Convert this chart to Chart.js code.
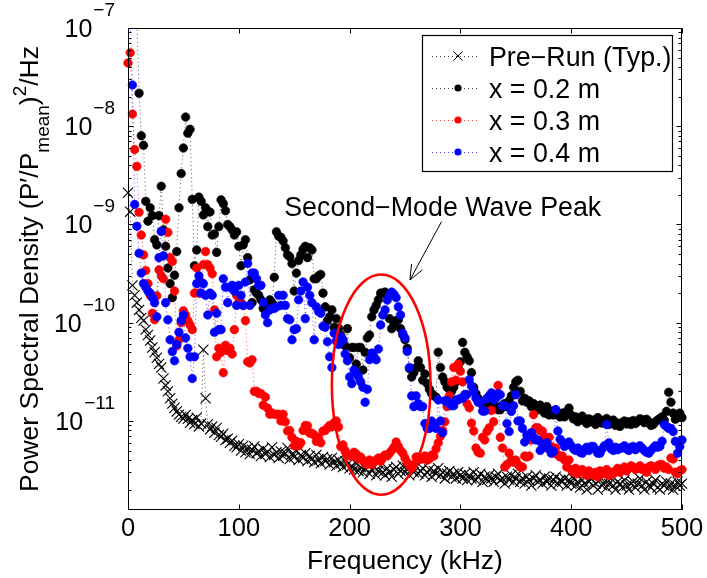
<!DOCTYPE html>
<html>
<head>
<meta charset="utf-8">
<script src="https://cdn.jsdelivr.net/npm/chart.js@4.4.0/dist/chart.umd.min.js"></script>
<style>
  html, body { margin: 0; padding: 0; background: #fff; }
  #wrap { width: 707px; height: 578px; }
</style>
</head>
<body>
<div id="wrap"><canvas id="psdChart" width="707" height="578"></canvas></div>
<script>
// ---- data ---------------------------------------------------------------
// frequency grid, kHz
const freqKHz = [
  0, 2, 4, 6, 8, 10, 12, 14, 16, 18,
  20, 22, 24, 26, 28, 30, 32, 34, 36, 38,
  40, 42, 44, 46, 48, 50, 52, 54, 56, 58,
  60, 62, 64, 66, 68, 70, 72, 74, 76, 78,
  80, 82, 84, 86, 88, 90, 92, 94, 96, 98,
  100, 102, 104, 106, 108, 110, 112, 114, 116, 118,
  120, 122, 124, 126, 128, 130, 132, 134, 136, 138,
  140, 142, 144, 146, 148, 150, 152, 154, 156, 158,
  160, 162, 164, 166, 168, 170, 172, 174, 176, 178,
  180, 182, 184, 186, 188, 190, 192, 194, 196, 198,
  200, 202, 204, 206, 208, 210, 212, 214, 216, 218,
  220, 222, 224, 226, 228, 230, 232, 234, 236, 238,
  240, 242, 244, 246, 248, 250, 252, 254, 256, 258,
  260, 262, 264, 266, 268, 270, 272, 274, 276, 278,
  280, 282, 284, 286, 288, 290, 292, 294, 296, 298,
  300, 302, 304, 306, 308, 310, 312, 314, 316, 318,
  320, 322, 324, 326, 328, 330, 332, 334, 336, 338,
  340, 342, 344, 346, 348, 350, 352, 354, 356, 358,
  360, 362, 364, 366, 368, 370, 372, 374, 376, 378,
  380, 382, 384, 386, 388, 390, 392, 394, 396, 398,
  400, 402, 404, 406, 408, 410, 412, 414, 416, 418,
  420, 422, 424, 426, 428, 430, 432, 434, 436, 438,
  440, 442, 444, 446, 448, 450, 452, 454, 456, 458,
  460, 462, 464, 466, 468, 470, 472, 474, 476, 478,
  480, 482, 484, 486, 488, 490, 492, 494, 496, 498,
  500
];

// PSD values below are in units of 1e-12 (P'/Pmean)^2/Hz
const PSD_UNIT = 1e-12;

const preRun = [
  2100, 1350, 240, 190, 160, 135, 112, 105, 85, 75,
  66, 56, 50, 44, 38, 35, 27, 23, 20, 17,
  15, 13.6, 12.5, 11.6, 11, 10.6, 11.5, 10.5, 9.6, 10.2,
  9.3, 10.8, 8.8, 9.4, 53, 17, 9.2, 8.2, 8.8, 7.6,
  8.5, 7.2, 6.9, 7.4, 6.4, 6.6, 6.0, 6.3, 5.6, 5.4,
  5.8, 5.0, 5.6, 4.8, 5.3, 4.6, 5.1, 5.5, 4.7, 4.9,
  4.4, 5.2, 4.6, 4.9, 4.3, 5.4, 4.5, 4.8, 4.2, 4.9,
  4.4, 4.7, 5.3, 4.1, 4.6, 4.3, 4.9, 4.0, 4.5, 4.2,
  4.7, 3.9, 4.4, 4.1, 3.8, 4.5, 4.0, 3.7, 4.3, 3.9,
  4.1, 3.6, 4.2, 3.8, 3.5, 4.0, 3.7, 3.4, 3.9, 3.6,
  3.3, 3.5, 3.2, 3.7, 3.1, 3.4, 3.0, 3.3, 3.6, 2.9,
  3.2, 3.4, 2.8, 3.1, 3.5, 3.0, 2.8, 3.3, 3.0, 2.7,
  3.2, 3.4, 2.9, 3.1, 3.5, 3.0, 3.3, 2.8, 3.2, 3.0,
  3.4, 2.9, 3.1, 3.3, 2.8, 3.0, 3.2, 2.7, 3.1, 2.9,
  3.3, 2.8, 3.0, 2.6, 2.9, 3.1, 2.7, 2.9, 2.6, 3.0,
  2.8, 2.6, 2.9, 2.5, 2.8, 2.6, 3.0, 2.5, 2.7, 2.9,
  2.4, 2.7, 2.5, 2.8, 2.6, 2.4, 2.7, 2.9, 2.5, 2.6,
  2.3, 2.7, 2.5, 2.8, 2.4, 2.6, 2.9, 2.4, 2.6, 2.3,
  2.7, 2.5, 2.2, 2.6, 2.8, 2.4, 2.5, 2.3, 2.7, 2.4,
  2.6, 2.2, 2.5, 2.7, 2.3, 2.5, 2.4, 2.6, 2.2, 2.5,
  2.3, 2.6, 2.2, 2.4, 2.1, 2.5, 2.3, 2.0, 2.4, 2.6,
  2.2, 2.3, 2.0, 2.5, 2.2, 2.4, 2.1, 2.3, 2.6, 2.2,
  2.0, 2.4, 2.3, 2.1, 2.5, 2.2, 2.0, 2.3, 2.4, 2.1,
  2.3, 2.6, 2.2, 2.0, 2.4, 2.2, 2.1, 2.3, 2.5, 2.1,
  2.0, 2.3, 2.2, 2.4, 2.1, 2.3, 2.0, 2.2, 2.4, 2.2,
  2.3
];

const x02 = [
  150000, 200000, 180000, 120000, 130000, 21700, 8000, 6400, 1720, 1080,
  1480, 1230, 700, 620, 1230, 2450, 880, 600, 360, 250,
  180, 305, 530, 1480, 3300, 6000, 12400, 8500, 9300, 1800,
  380, 550, 1900, 1720, 1250, 1480, 950, 1340, 780, 800,
  520, 950, 1780, 1630, 1380, 1000, 950, 880, 780, 840,
  600, 380, 620, 700, 460, 273, 160, 216, 200, 190,
  171, 140, 135, 140, 171, 160, 290, 840, 760, 740,
  680, 580, 490, 470, 400, 210, 320, 430, 490, 560,
  600, 460, 580, 550, 280, 280, 300, 310, 200, 145,
  105, 115, 135, 90, 110, 88, 75, 67, 58, 87,
  44, 56, 56, 38, 56, 56, 33, 50, 70, 75,
  115, 135, 150, 171, 200, 200, 205, 190, 110, 87,
  95, 105, 107, 87, 75, 67, 55, 34, 28, 31,
  35, 41, 35, 26, 30, 24, 21, 19, 18, 17.5,
  50, 35, 28, 25, 22, 21, 20, 22, 25, 35,
  40, 63, 50, 45, 41, 31, 22, 19, 17, 16,
  14.5, 14, 13, 14, 13.5, 15, 14, 13, 13, 14.5,
  15, 14, 16, 18, 22, 25, 26, 20, 16, 17,
  15.5, 16, 14, 15, 14, 13, 14.5, 13, 12, 14,
  11.5, 12.5, 11.5, 13, 11.5, 11, 12, 11, 12.5, 13.5,
  11.5, 10.5, 11, 9.8, 10.3, 11.2, 10, 9.4, 10.5, 9.8,
  10.2, 9.2, 10.8, 10.3, 9.5, 9.8, 10.6, 9.2, 9.6, 10.2,
  9, 9.5, 8.8, 9.6, 10, 9.3, 9.8, 9.2, 10.1, 9.4,
  9.9, 10.5, 10.3, 9.6, 10.4, 9.8, 9.0, 9.2, 9.8, 10.2,
  10.6, 11, 10.2, 12.5, 19.6, 15.5, 12, 10.4, 11.5, 12,
  10.8
];

const x03 = [
  44000, 56000, 13300, 5800, 3900, 1330, 780, 490, 340, 250,
  190, 125, 107, 188, 345, 300, 280, 1130, 830, 460,
  420, 210, 58, 67, 100, 132, 120, 105, 95, 85,
  200, 360, 200, 260, 390, 530, 390, 360, 315, 135,
  45, 55, 50, 31, 59, 52, 55, 48, 85, 190,
  160, 160, 150, 105, 40, 39, 42, 20, 20, 19,
  19, 14.5, 17.5, 13.5, 11.7, 12, 11.7, 11.7, 11.7, 10,
  11.7, 9.8, 7.9, 8, 6.8, 5.6, 6.2, 5.6, 6, 8,
  9, 8.9, 7.5, 7.5, 7.2, 6.2, 6.8, 6, 7.9, 8,
  8.5, 9, 8.7, 9.6, 10, 8.7, 5.5, 5.7, 5, 4.6,
  4.4, 4.4, 4.8, 4.6, 4.1, 4.3, 4, 3.7, 3.6, 4.0,
  3.6, 3.8, 4, 4.2, 3.9, 4.3, 4.5, 4.4, 4.7, 5.0,
  5.4, 6.1, 5.5, 5.0, 4.7, 4.2, 3.8, 3.5, 3.3, 3.6,
  4.3, 4.3, 4.1, 4.1, 4.4, 4.0, 4.1, 4.5, 4.4, 5.2,
  6, 7, 8, 9.8, 14, 18, 25, 35, 26, 38,
  32, 25, 18, 15, 13.6, 9.5, 7.9, 5.3, 4.8, 4.7,
  6.8, 6.4, 7.8, 8.5, 12.8, 9.8, 18.6, 23, 6.8, 5.3,
  3.4, 3.6, 4.7, 4.0, 3.8, 4.0, 3.6, 3.4, 3.4, 4.4,
  4.3, 4.4, 6.4, 11.6, 8.5, 8.5, 7.9, 7.9, 6.8, 5.3,
  6.8, 5.5, 4.7, 5.3, 4.5, 4.3, 4.4, 4.0, 3.4, 4.0,
  3.2, 3.0, 3.3, 2.9, 3.1, 3.2, 3.0, 2.8, 3.1, 2.9,
  2.8, 3.0, 2.7, 3.1, 3.0, 2.9, 3.2, 2.8, 3.0, 2.9,
  3.1, 3.3, 3.0, 3.2, 3.4, 3.1, 3.3, 3.5, 3.4, 3.2,
  3.3, 3.5, 3.2, 3.3, 3.0, 3.4, 3.5, 3.4, 3.2, 3.5,
  3.6, 3.6, 3.3, 3.4, 3.2, 4.2, 4.1, 3.0, 2.9, 3.1,
  3.2
];

const x04 = [
  150000, 110000, 26300, 1600, 960, 510, 320, 250, 230, 210,
  200, 180, 160, 115, 460, 850, 480, 160, 107, 67,
  51, 41, 60, 80, 105, 120, 70, 55, 45, 27,
  45, 250, 300, 200, 250, 190, 120, 200, 190, 80,
  125, 85, 85, 280, 230, 160, 230, 240, 210, 150,
  240, 190, 150, 260, 400, 150, 320, 320, 280, 240,
  240, 160, 120, 100, 135, 140, 140, 145, 190, 150,
  190, 150, 110, 107, 67, 85, 87, 171, 210, 260,
  110, 230, 190, 160, 67, 145, 130, 125, 92, 90,
  64, 45, 35, 78, 65, 60, 72, 67, 48, 41,
  28, 24, 33, 31, 28, 25, 22, 15.5, 21, 42,
  49, 45, 42, 54, 95, 120, 135, 170, 190, 205,
  195, 180, 145, 120, 78, 70, 51, 35, 18, 14,
  18, 15, 14, 14, 9.4, 8.4, 8.4, 10, 9, 8.4,
  16.4, 10, 7.6, 16, 16, 15, 14.3, 14.3, 16.4, 16.4,
  17, 17, 18.6, 18.6, 26.3, 22.7, 20, 17, 15.5, 15.5,
  12.6, 12.6, 17, 18, 19.3, 16.4, 17, 19, 18.5, 14.3,
  14.3, 9.4, 7.8, 12.5, 14.3, 18.5, 10, 10, 8.4, 6.1,
  7.2, 7, 7.6, 6.8, 6.4, 6.4, 5, 5.8, 5.5, 6,
  5.2, 4.7, 4.9, 13, 7.9, 6.5, 6.1, 5.5, 5.8, 6.1,
  5.6, 5.2, 5, 5.3, 4.8, 4.7, 5.1, 5.4, 5.0, 5.5,
  5.5, 5.1, 4.7, 4.7, 5.2, 5.6, 9.2, 6.0, 5.2, 5,
  5.4, 5.1, 5.3, 5.3, 5.6, 5.2, 5.0, 5.4, 5.5, 5.1,
  5.3, 5.6, 5.3, 5.0, 4.8, 4.7, 5.0, 5.3, 5.6, 5.4,
  5.5, 6.2, 9.2, 8.8, 8.4, 8.4, 7.8, 6.2, 4.7, 5.5,
  6.4
];

const seriesLabels = ['Pre\u2212Run (Typ.)', 'x = 0.2 m', 'x = 0.3 m', 'x = 0.4 m'];
const xTicks = [0, 100, 200, 300, 400, 500];
const yDecadeExps = [-11, -10, -9, -8, -7];
const yMin = 1.24e-12;
const yMax = 1e-7;

// annotation: ellipse around the second-mode peak, arrow and label (data coords)
const peakLabel = 'Second\u2212Mode Wave Peak';
const peakEllipse = { fLo: 184, fHi: 273, psdLo: 1.77e-12, psdHi: 3.1e-10 };
const peakArrow = { f0: 283, psd0: 1.07e-9, f1: 254.5, psd1: 2.73e-10 };
const peakText = { f: 141, psd: 1.22e-9 };

// ---- chart --------------------------------------------------------------
const FONT = '"Liberation Sans", Arial, Helvetica, sans-serif';
const TICK = 5.5;
const TICK_MINOR = 3.5;

function makeSeries(label, values, color, lineColor, style, order) {
  const isCross = style === 'crossRot';
  return {
    label: label,
    order: order,
    data: freqKHz.map((f, i) => ({ x: f, y: values[i] * PSD_UNIT })),
    showLine: true,
    borderColor: lineColor,
    borderWidth: 0.9,
    borderDash: [1, 3],
    pointStyle: style,
    pointRadius: isCross ? 7.2 : 4.3,
    pointBorderWidth: isCross ? 1.1 : 0.6,
    pointBackgroundColor: color,
    pointBorderColor: color,
    pointHoverRadius: 0,
    tension: 0,
    clip: { left: 8, right: 8, top: 0, bottom: 8 }
  };
}

function txt(ctx, s, x, y, size, align) {
  ctx.font = size + 'px ' + FONT;
  ctx.textAlign = align || 'left';
  ctx.textBaseline = 'alphabetic';
  ctx.fillText(s, x, y);
}

const matlabDecor = {
  id: 'matlabDecor',
  afterDatasetsDraw(chart) {
    const ctx = chart.ctx;
    const a = chart.chartArea;
    const xs = chart.scales.x, ys = chart.scales.y;
    ctx.save();
    ctx.fillStyle = '#000';

    // peak annotation: ellipse
    const exL = xs.getPixelForValue(peakEllipse.fLo), exR = xs.getPixelForValue(peakEllipse.fHi);
    const eyT = ys.getPixelForValue(peakEllipse.psdHi), eyB = ys.getPixelForValue(peakEllipse.psdLo);
    ctx.strokeStyle = '#ff0000';
    ctx.lineWidth = 2.6;
    ctx.beginPath();
    ctx.ellipse((exL + exR) / 2, (eyT + eyB) / 2, (exR - exL) / 2, (eyB - eyT) / 2, 0, 0, Math.PI * 2);
    ctx.stroke();

    // arrow
    const ax0 = xs.getPixelForValue(peakArrow.f0), ay0 = ys.getPixelForValue(peakArrow.psd0);
    const ax1 = xs.getPixelForValue(peakArrow.f1), ay1 = ys.getPixelForValue(peakArrow.psd1);
    const ang = Math.atan2(ay0 - ay1, ax0 - ax1);
    ctx.strokeStyle = '#000';
    ctx.lineWidth = 1;
    ctx.beginPath();
    ctx.moveTo(ax0, ay0);
    ctx.lineTo(ax1, ay1);
    ctx.moveTo(ax1 + 16 * Math.cos(ang - 0.4), ay1 + 16 * Math.sin(ang - 0.4));
    ctx.lineTo(ax1, ay1);
    ctx.lineTo(ax1 + 16 * Math.cos(ang + 0.4), ay1 + 16 * Math.sin(ang + 0.4));
    ctx.stroke();

    txt(ctx, peakLabel, xs.getPixelForValue(peakText.f), ys.getPixelForValue(peakText.psd), 26.8);

    // axes box and inward ticks
    ctx.strokeStyle = '#000';
    ctx.lineWidth = 1;
    ctx.beginPath();
    xTicks.forEach(v => {
      const px = Math.round(xs.getPixelForValue(v)) + 0.5;
      ctx.moveTo(px, a.bottom); ctx.lineTo(px, a.bottom - TICK);
      ctx.moveTo(px, a.top); ctx.lineTo(px, a.top + TICK);
    });
    for (let e = -12; e <= -7; e++) {
      for (let m = 1; m <= 9; m++) {
        const v = m * Math.pow(10, e);
        if (v < yMin || v > yMax * 1.0001) continue;
        const py = Math.round(ys.getPixelForValue(v)) + 0.5;
        const len = m === 1 ? TICK : TICK_MINOR;
        ctx.moveTo(a.left, py); ctx.lineTo(a.left + len, py);
        ctx.moveTo(a.right, py); ctx.lineTo(a.right - len, py);
      }
    }
    ctx.stroke();
    ctx.strokeRect(a.left + 0.5, a.top + 0.5, a.right - a.left - 1, a.bottom - a.top - 1);

    // y tick labels 10^n
    yDecadeExps.forEach(e => {
      const py = ys.getPixelForValue(Math.pow(10, e));
      const expStr = '\u2212' + Math.abs(e);
      ctx.font = '25px ' + FONT;
      const w10 = ctx.measureText('10').width;
      ctx.font = '19px ' + FONT;
      const wExp = ctx.measureText(expStr).width;
      const x0 = a.left - 13 - w10 - wExp - 1;
      txt(ctx, '10', x0, py + 9, 25);
      txt(ctx, expStr, x0 + w10 + 1, py - 12, 19);
    });

    // y axis title with sub/superscript
    const parts = [
      ['Power Spectral Density (P\u2032/P', 26.5, 0],
      ['mean', 19, 11],
      [')', 26.5, 0],
      ['2', 19, -12],
      ['/Hz', 26.5, 0]
    ];
    let total = 0;
    parts.forEach(p => { ctx.font = p[1] + 'px ' + FONT; p.push(ctx.measureText(p[0]).width); total += p[3]; });
    ctx.save();
    ctx.translate(38, (a.top + a.bottom) / 2);
    ctx.rotate(-Math.PI / 2);
    let cx = -total / 2;
    parts.forEach(p => { txt(ctx, p[0], cx, p[2], p[1]); cx += p[3]; });
    ctx.restore();

    // legend
    const box = { left: a.right - 260, top: a.top + 7, w: 250, h: 136 };
    ctx.fillStyle = '#fff';
    ctx.fillRect(box.left, box.top, box.w, box.h);
    ctx.strokeStyle = '#000';
    ctx.lineWidth = 1.2;
    ctx.strokeRect(box.left + 0.5, box.top + 0.5, box.w, box.h);
    chart.data.datasets.forEach((ds, i) => {
      const ly = box.top + 21 + i * 32;
      ctx.strokeStyle = ds.borderColor;
      ctx.lineWidth = 1;
      ctx.setLineDash([1, 3]);
      ctx.beginPath();
      ctx.moveTo(box.left + 10, ly + 0.5);
      ctx.lineTo(box.left + 56, ly + 0.5);
      ctx.stroke();
      ctx.setLineDash([]);
      const mx = box.left + 36;
      ctx.fillStyle = ds.pointBackgroundColor;
      ctx.strokeStyle = ds.pointBorderColor;
      if (ds.pointStyle === 'crossRot') {
        ctx.beginPath();
        ctx.moveTo(mx - 4.5, ly - 4.5); ctx.lineTo(mx + 4.5, ly + 4.5);
        ctx.moveTo(mx + 4.5, ly - 4.5); ctx.lineTo(mx - 4.5, ly + 4.5);
        ctx.stroke();
      } else {
        ctx.beginPath();
        ctx.arc(mx, ly, 3.6, 0, Math.PI * 2);
        ctx.fill();
      }
      ctx.fillStyle = '#000';
      txt(ctx, ds.label, box.left + 67, ly + 9.5, 26.8);
    });

    ctx.restore();
  }
};

const ctx = document.getElementById('psdChart').getContext('2d');
new Chart(ctx, {
  type: 'line',
  data: {
    datasets: [
      makeSeries(seriesLabels[0], preRun, '#000000', 'rgba(0,0,0,0.75)', 'crossRot', 4),
      makeSeries(seriesLabels[1], x02, '#000000', 'rgba(0,0,0,0.75)', 'circle', 3),
      makeSeries(seriesLabels[2], x03, '#ff0000', 'rgba(255,0,0,0.75)', 'circle', 2),
      makeSeries(seriesLabels[3], x04, '#0000ff', 'rgba(0,0,255,0.75)', 'circle', 1)
    ]
  },
  options: {
    responsive: false,
    animation: false,
    devicePixelRatio: 1,
    layout: { padding: { top: 28, right: 25, left: 0, bottom: 0 } },
    plugins: { legend: { display: false }, tooltip: { enabled: false } },
    scales: {
      x: {
        type: 'linear', min: 0, max: 500,
        grid: { display: false }, border: { display: false },
        ticks: { stepSize: 100, color: '#000', font: { family: FONT, size: 25.5 }, padding: -4, maxRotation: 0, autoSkip: false },
        title: { display: true, text: 'Frequency (kHz)', color: '#000', font: { family: FONT, size: 26.5 }, padding: { top: 0, bottom: 0 } },
        afterFit: s => { s.height = 68; }
      },
      y: {
        type: 'logarithmic', min: yMin, max: yMax,
        grid: { display: false }, border: { display: false },
        ticks: { display: false },
        afterFit: s => { s.width = 128; }
      }
    }
  },
  plugins: [matlabDecor]
});
</script>
</body>
</html>
